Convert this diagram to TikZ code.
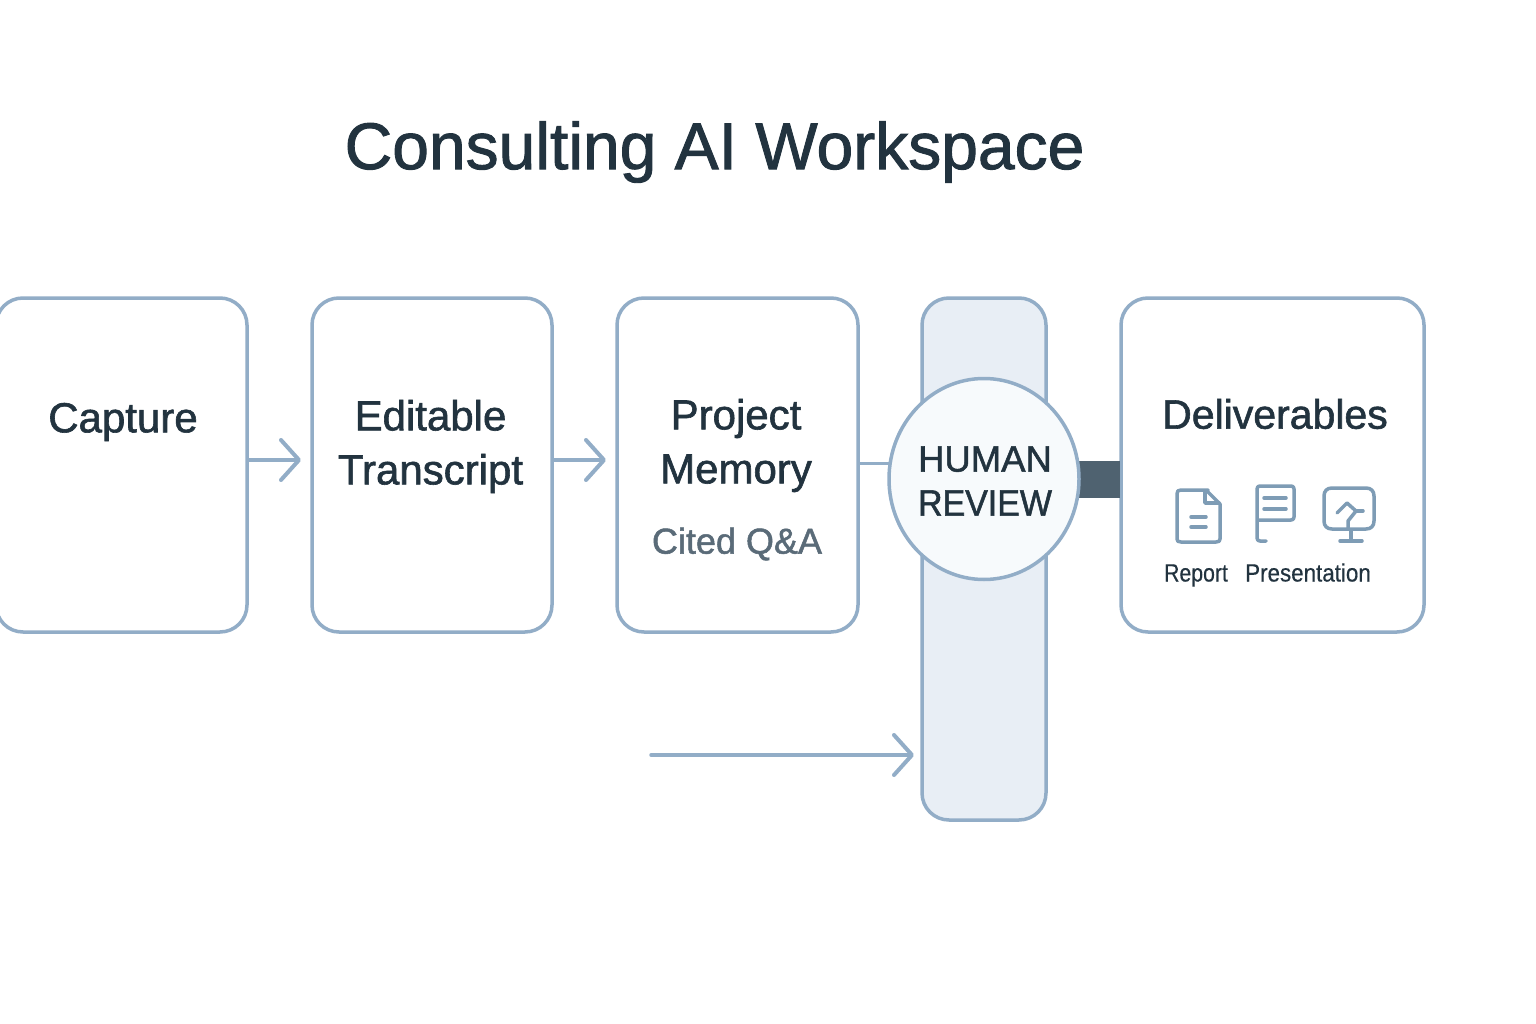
\documentclass[tikz,border=0pt]{standalone}
\usepackage{fontspec}
\setmainfont{Liberation Sans}[FakeBold=1.4]
\newfontfamily\smallface{Liberation Sans}[FakeStretch=0.85,FakeBold=0.4]
\newfontfamily\presface{Liberation Sans}[FakeStretch=0.895,FakeBold=0.4]
\newfontfamily\revface{Liberation Sans}[FakeStretch=0.93,FakeBold=1.4]
\usetikzlibrary{arrows.meta,calc,shapes.geometric}
\definecolor{edgeblue}{HTML}{92ADC7}
\definecolor{inkdark}{HTML}{22333F}
\definecolor{inkgrey}{HTML}{5A6B78}
\definecolor{pillfill}{HTML}{E8EEF5}
\definecolor{circfill}{HTML}{F7FAFC}
\definecolor{iconblue}{HTML}{7E9CB5}
\definecolor{darkbar}{HTML}{4F6270}
\tikzset{
  x=1pt,y=-1pt,
  card/.style={draw=edgeblue,line width=3.5pt,rounded corners=27pt,fill=white,inner sep=0pt,outer sep=0pt,anchor=north west},
  flow/.style={draw=edgeblue,line width=3.5pt,-{Straight Barb[length=18pt,width=40pt,line width=4pt,round]}},
  lbl/.style={text=inkdark,inner sep=0pt,align=center,font=\fontsize{42}{54}\selectfont},
  small/.style={text=inkdark,inner sep=0pt,font=\smallface\fontsize{25}{30}\selectfont},
  icon/.style={draw=iconblue,line width=3.5pt,line cap=round,line join=round},
}
\begin{document}
\begin{tikzpicture}
\useasboundingbox (0,0) rectangle (1536,1024);
\fill[white] (0,0) rectangle (1536,1024);
\node[inner sep=0pt,text=inkdark] (title) at (714.5,152) {\fontsize{66}{70}\selectfont Consulting AI Workspace};
% cards
\node[card,minimum width=251pt,minimum height=334pt] (capture) at (-4,298) {};
\node[card,minimum width=240pt,minimum height=334pt] (transcript) at (312,298) {};
\node[card,minimum width=241pt,minimum height=334pt] (memory) at (617,298) {};
\node[card,minimum width=303pt,minimum height=334pt] (deliver) at (1121,298) {};
\node[card,fill=pillfill,minimum width=124pt,minimum height=522pt] (pill) at (922,298) {};
% connectors
\coordinate (a1s) at (247,460); \coordinate (a1e) at (301,460);
\coordinate (a2s) at (552,460); \coordinate (a2e) at (606,460);
\coordinate (a3s) at (651,755); \coordinate (a3e) at (914,755);
\draw[flow] (a1s) -- (a1e);
\draw[flow] (a2s) -- (a2e);
\draw[flow,line cap=round] (a3s) -- (a3e);
\coordinate (l1) at (858,463);
\coordinate (l2) at (900,463);
\draw[draw=edgeblue,line width=3pt] (l1) -- (l2);
\node[fill=darkbar,inner sep=0pt,minimum width=42pt,minimum height=37pt,anchor=west] (bar) at (1078,479.5) {};
\node[ellipse,draw=edgeblue,line width=3.5pt,fill=circfill,minimum width=190pt,minimum height=201pt,inner sep=0pt] (review) at (984,479) {};
% texts
\node[lbl] (t1) at (123,422) {Capture};
\node[lbl] (t2) at (430.5,446.5) {Editable\\Transcript};
\node[lbl] (t3) at (736,445.5) {Project\\Memory};
\node[text=inkgrey,inner sep=0pt,font=\fontsize{36}{44}\selectfont] (t3b) at (737,544) {Cited Q\&A};
\node[lbl,font=\fontsize{36.5}{44}\selectfont] (t4) at (985,481) {HUMAN\\{\revface REVIEW}};
\node[lbl,font=\fontsize{41}{54}\selectfont] (t5) at (1275,414) {Deliverables};
\node[small,anchor=base] (t6) at (1196,581.5) {Report};
\node[small,font=\presface\fontsize{25}{30}\selectfont,anchor=base] (t7) at (1308,581.5) {Presentation};
% report icon
\draw[icon] (1208,490) -- (1181,490) .. controls (1178,490) and (1177,491) .. (1177,494) -- (1177,539) .. controls (1177,541) and (1178,542) .. (1181,542) -- (1216,542) .. controls (1219,542) and (1220,541) .. (1220,539) -- (1220,504) -- (1206,490);
\draw[icon] (1205,491) -- (1205,503) -- (1219,503);
\draw[icon] (1191,517) -- (1206,517);
\draw[icon] (1191,527) -- (1206,527);
% presentation icon
\draw[icon] (1257,520) -- (1291,520) .. controls (1293,520) and (1294,519) .. (1294,517) -- (1294,489) .. controls (1294,487) and (1293,486) .. (1291,486) -- (1260,486) .. controls (1258,486) and (1257,487) .. (1257,489) -- (1257,538) .. controls (1257,540) and (1258,541) .. (1260,541) -- (1266,541);
\draw[icon] (1264,498) -- (1286,498);
\draw[icon] (1264,509) -- (1286,509);
% monitor icon
\draw[icon] (1332,488) -- (1366,488) .. controls (1371,488) and (1374,491) .. (1374,496) -- (1374,521) .. controls (1374,526) and (1371,529) .. (1366,529) -- (1332,529) .. controls (1327,529) and (1324,526) .. (1324,521) -- (1324,496) .. controls (1324,491) and (1327,488) .. (1332,488) -- cycle;
\draw[icon] (1337,513) -- (1347,503) -- (1356,511) -- (1348,521) -- (1348,528);
\draw[icon] (1356,511) -- (1363,511);
\draw[icon] (1351,530) -- (1351,541);
\draw[icon] (1340,541) -- (1362,541);
\end{tikzpicture}
\end{document}
